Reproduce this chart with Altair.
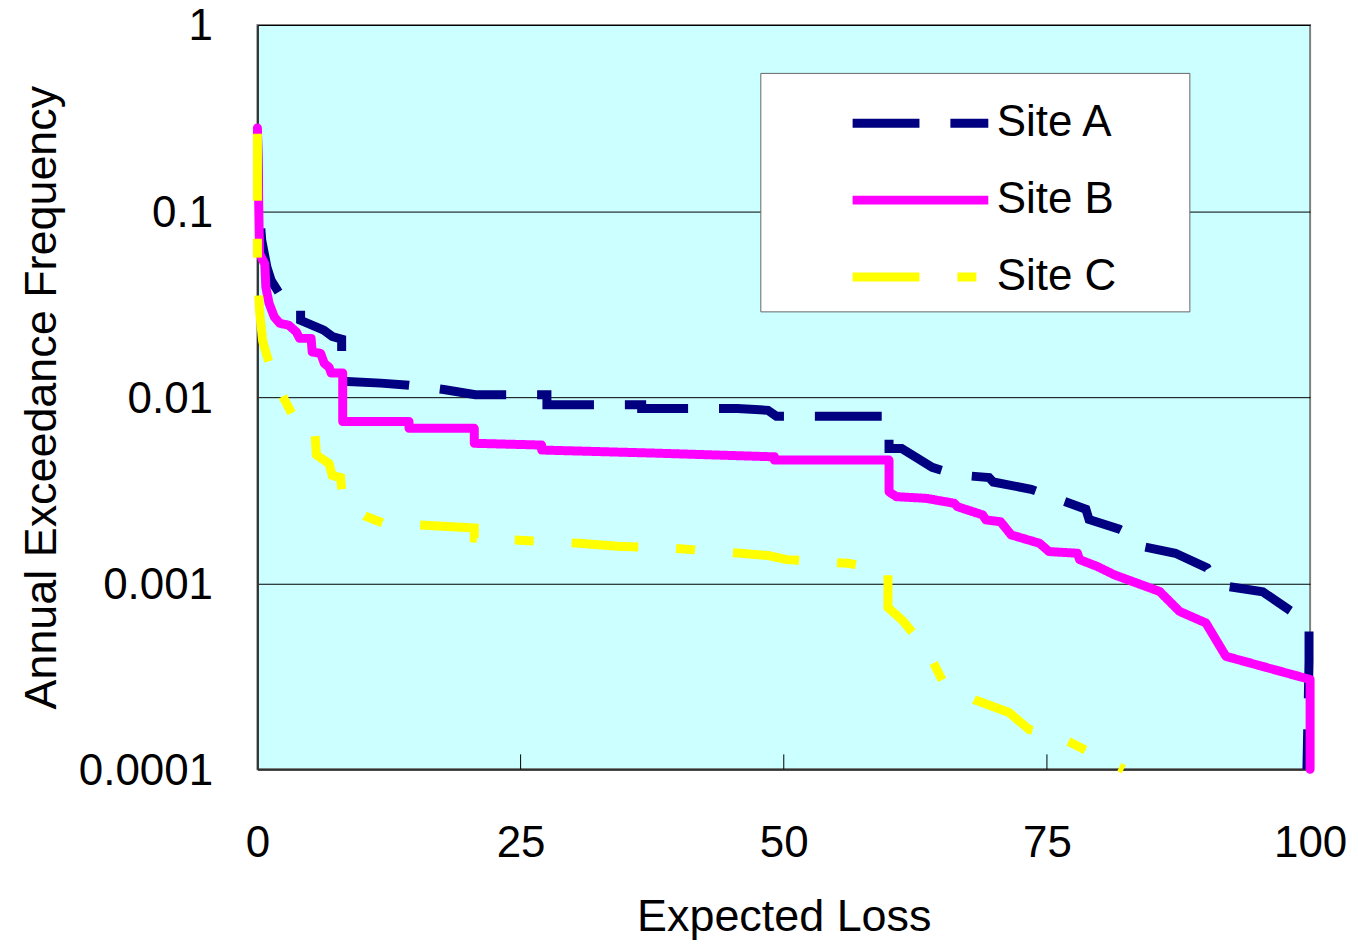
import altair as alt
import pandas as pd

SERIES = ["Site A", "Site B", "Site C"]
COLORS = ["#000080", "#FF00FF", "#FFFF00"]
DASHES = [[67, 31], [1, 0], [67, 38, 19, 38]]

X_TICKS = [0, 25, 50, 75, 100]
Y_TICKS = [1, 0.1, 0.01, 0.001, 0.0001]

A_X = [0, 0.1, 0.4, 0.9, 1.3, 1.9, 2.5, 3.5, 4.1, 4.1,
       6.3, 7.1, 8.0, 8.0, 11.7, 14.4, 17.7, 20.7, 27.5, 27.5,
       36.5, 36.5, 45.6, 48.5, 49.3, 60.0, 60.0, 61.2, 64.1, 65.3,
       67.0, 69.5, 69.9, 73.5, 78.7, 79.0, 81.9, 83.6, 84.2, 87.2,
       90.2, 90.9, 91.2, 95.5, 98.0, 99.9, 99.9, 99.7]
A_Y = [0.27, 0.12, 0.07, 0.05, 0.0424, 0.0375, 0.0331, 0.0315, 0.030, 0.0259,
       0.0229, 0.0212, 0.0205, 0.0122, 0.0119, 0.0116, 0.0110, 0.0103, 0.0103, 0.0091,
       0.0091, 0.0087, 0.0087, 0.0085, 0.0079, 0.0079, 0.0053, 0.0053, 0.0042, 0.0040,
       0.0038, 0.0037, 0.0035, 0.0032, 0.0025, 0.0022, 0.00195, 0.00175, 0.00157, 0.00145,
       0.00121, 0.00104, 0.00098, 0.0009, 0.00072, 0.00061, 0.00038, 0.0001]

B_X = [0, 0.2, 0.7, 0.8, 1.1, 1.6, 2.1, 3.0, 3.7, 4.0,
       5.1, 5.2, 6.0, 6.35, 6.8, 7.0, 8.1, 8.1, 14.4, 14.4,
       20.6, 20.6, 27.0, 27.0, 38.0, 49.1, 49.1, 60.0, 60.0, 60.7,
       63.5, 66.2, 66.5, 68.9, 69.2, 70.6, 71.6, 74.3, 75.2, 77.9,
       78.1, 79.8, 81.4, 85.7, 87.6, 90.1, 92.0, 100.0, 100.0]
B_Y = [0.28, 0.059, 0.052, 0.039, 0.032, 0.027, 0.025, 0.0243, 0.0224, 0.0207,
       0.0207, 0.0175, 0.0172, 0.0152, 0.0145, 0.0135, 0.0135, 0.0074, 0.0074, 0.0068,
       0.0068, 0.00565, 0.00553, 0.0052, 0.0050, 0.00478, 0.00459, 0.00459, 0.0031, 0.00292,
       0.00286, 0.00269, 0.00258, 0.00233, 0.00219, 0.00214, 0.00182, 0.00164, 0.00148, 0.00145,
       0.00134, 0.00123, 0.00111, 0.000904, 0.000706, 0.000612, 0.000405, 0.000304, 0.0001]

C_X = [0, 0, 0.1, 0.2, 0.5, 1.0, 1.5, 2.4, 3.35, 5.4,
       5.6, 6.8, 7.1, 7.9, 8.1, 10.2, 12.0, 15.3, 20.6, 20.6,
       30.6, 34.2, 39.6, 45.9, 48.5, 50.3, 56.1, 59.9, 59.9, 61.3,
       63.7, 65.1, 68.1, 71.4, 73.3, 76.2, 82.3]
C_Y = [0.26, 0.058, 0.037, 0.029, 0.020, 0.016, 0.013, 0.0101, 0.0080, 0.0072,
       0.0049, 0.0044, 0.0038, 0.0037, 0.0028, 0.0023, 0.0021, 0.00206, 0.00198, 0.00175,
       0.00164, 0.00158, 0.00154, 0.00145, 0.00141, 0.00134, 0.00128, 0.00118, 0.00074, 0.00063,
       0.00043, 0.000297, 0.000237, 0.000202, 0.000164, 0.000149, 0.0001]

rows = []
for name, xs, ys in zip(SERIES, [A_X, B_X, C_X], [A_Y, B_Y, C_Y]):
    assert len(xs) == len(ys)
    for i, (xv, yv) in enumerate(zip(xs, ys)):
        rows.append({"site": name, "loss": xv, "freq": yv, "idx": i})
df = pd.DataFrame(rows)

W, H = 1055, 746
FONT = "Liberation Sans"
# trailing non-breaking spaces widen the legend box; the zero-width space keeps them from being trimmed
LABEL_PAD = "\u00a0" * 5 + "\u200b"

legend = alt.Legend(
    title=None, orient="none", legendX=504, legendY=48,
    symbolType="M-2,0H2", symbolSize=4624, symbolStrokeWidth=9,
    symbolOffset=110, labelOffset=38, padding=12, rowPadding=16,
    fillColor="white", strokeColor="#666666",
    labelFont=FONT, labelFontSize=44, labelColor="black", labelLimit=600,
    symbolFillColor="transparent",
    labelExpr="datum.label + '" + LABEL_PAD + "'",
)

base = alt.Chart(df).encode(
    x=alt.X("loss:Q", scale=alt.Scale(domain=[0, 100], nice=False, zero=False),
            axis=alt.Axis(title="Expected Loss", values=X_TICKS, ticks=False, grid=False,
                          labelPadding=52, titlePadding=30, labelFlush=False)),
    y=alt.Y("freq:Q", scale=alt.Scale(type="log", domain=[0.0001, 1], nice=False),
            axis=alt.Axis(title="Annual Exceedance Frequency", values=Y_TICKS, format=".4~f",
                          grid=True, gridColor="black", gridWidth=1, gridOpacity=1, ticks=False,
                          labelPadding=45, titlePadding=14, labelFlush=False, labelOffset=2)),
    color=alt.Color("site:N", scale=alt.Scale(domain=SERIES, range=COLORS), legend=legend),
    strokeDash=alt.StrokeDash("site:N", scale=alt.Scale(domain=SERIES, range=DASHES), legend=legend),
    order=alt.Order("idx:Q"),
)

layers = []
for name in SERIES:
    round_style = name == "Site B"
    layers.append(
        base.transform_filter(alt.datum.site == name).mark_line(
            strokeWidth=9,
            strokeCap="round" if round_style else "butt",
            strokeJoin="round" if round_style else "miter",
        )
    )

tick_df = pd.DataFrame({"loss": X_TICKS[1:-1]})
ticks = alt.Chart(tick_df).mark_rule(color="black", strokeWidth=1).encode(
    x=alt.X("loss:Q"), y=alt.value(H - 15), y2=alt.value(H)
)

chart = alt.layer(*layers, ticks).properties(
    width=W, height=H,
    autosize=alt.AutoSizeParams(type="none"),
    padding={"left": 250, "top": 16, "right": 40, "bottom": 174},
).configure_view(
    fill="#CCFFFF", stroke="#808080", strokeWidth=2
).configure_axis(
    labelFont=FONT, titleFont=FONT, labelFontSize=44, titleFontSize=45,
    labelColor="black", titleColor="black", titleFontWeight="normal",
    domainColor="#333333", domainWidth=2,
)

chart.save("out.html", embed_options={"renderer": "svg", "actions": False})
